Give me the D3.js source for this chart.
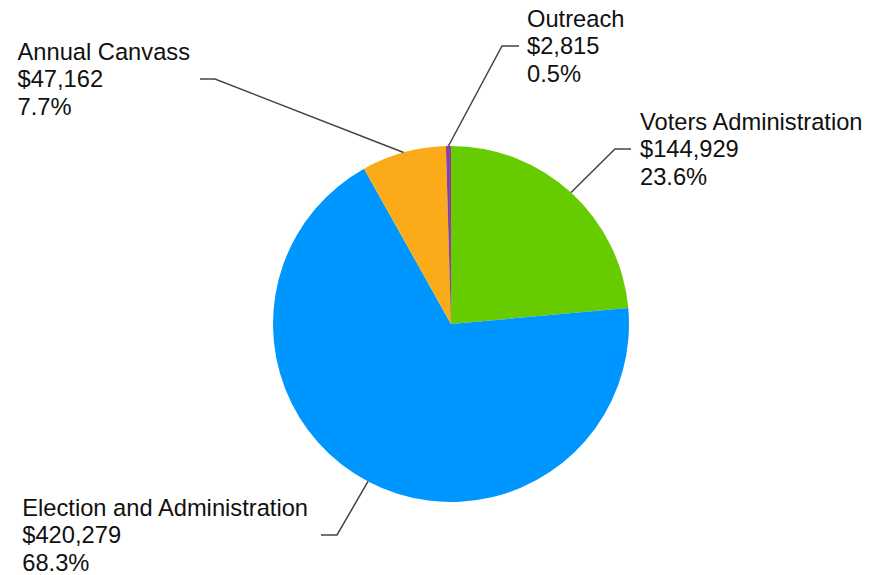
<!DOCTYPE html>
<html>
<head>
<meta charset="utf-8">
<script src="https://cdn.jsdelivr.net/npm/d3@7"></script>
<style>
  html, body { margin: 0; padding: 0; background: #fff; }
  svg { display: block; }
  text { font-family: "Liberation Sans", Arial, sans-serif; font-size: 23.7px; fill: #111; }
</style>
</head>
<body>
<svg id="chart" width="869" height="575"></svg>
<script>
// Budget breakdown by program
const categories = ["Voters Administration", "Election and Administration", "Annual Canvass", "Outreach"];
const amounts = [144929, 420279, 47162, 2815];
const percentLabels = ["23.6%", "68.3%", "7.7%", "0.5%"];
const colors = ["#66cc00", "#0096ff", "#fbab19", "#8e3fa3"];

const svg = d3.select("#chart");
const cx = 451, cy = 324, radius = 178;

const data = categories.map((name, i) => ({ name, value: amounts[i], pct: percentLabels[i], color: colors[i] }));

const pie = d3.pie().value(d => d.value).sort(null).startAngle(0).endAngle(2 * Math.PI);
const arcs = pie(data);
const arc = d3.arc().innerRadius(0).outerRadius(radius);

const g = svg.append("g").attr("transform", `translate(${cx},${cy})`);

g.selectAll("path.slice")
  .data(arcs)
  .join("path")
  .attr("class", "slice")
  .attr("d", arc)
  .attr("fill", d => d.data.color);

// Callout placement: elbow point relative to centre, side of the text block, tail length and gap
const callouts = {
  "Voters Administration":       { ex: 164, ey: -175, side: "right", tail: 16, gap: 9 },
  "Election and Administration": { ex: -114, ey: 211, side: "left", tail: 16, gap: 13 },
  "Annual Canvass":              { ex: -236, ey: -245, side: "left", tail: 15, gap: 10 },
  "Outreach":                    { ex: 51, ey: -278, side: "right", tail: 17, gap: 8 }
};

const fmt = d3.format("$,");
const lineH = 27.5;

arcs.forEach(a => {
  const c = callouts[a.data.name];
  const mid = (a.startAngle + a.endAngle) / 2;
  const sx = radius * Math.sin(mid), sy = -radius * Math.cos(mid);
  const dir = c.side === "right" ? 1 : -1;
  const tx = c.ex + dir * c.tail;

  g.append("polyline")
    .attr("points", `${sx},${sy} ${c.ex},${c.ey} ${tx},${c.ey}`)
    .attr("fill", "none")
    .attr("stroke", "#444")
    .attr("stroke-width", 1.5);

  const lines = [a.data.name, fmt(a.data.value), a.data.pct];
  const textX = tx + dir * c.gap;
  const t = g.append("text").attr("text-anchor", "start");
  lines.forEach((s, i) => {
    t.append("tspan")
      .attr("x", 0)
      .attr("y", c.ey + (i - 1) * lineH)
      .attr("dy", "0.35em")
      .text(s);
  });
  if (c.side === "right") {
    t.selectAll("tspan").attr("x", textX);
  } else {
    // Left-side blocks stay left-aligned; shift so the widest line ends near the tail
    const w = t.node().getBBox().width;
    t.selectAll("tspan").attr("x", textX - w);
  }
});
</script>
</body>
</html>
